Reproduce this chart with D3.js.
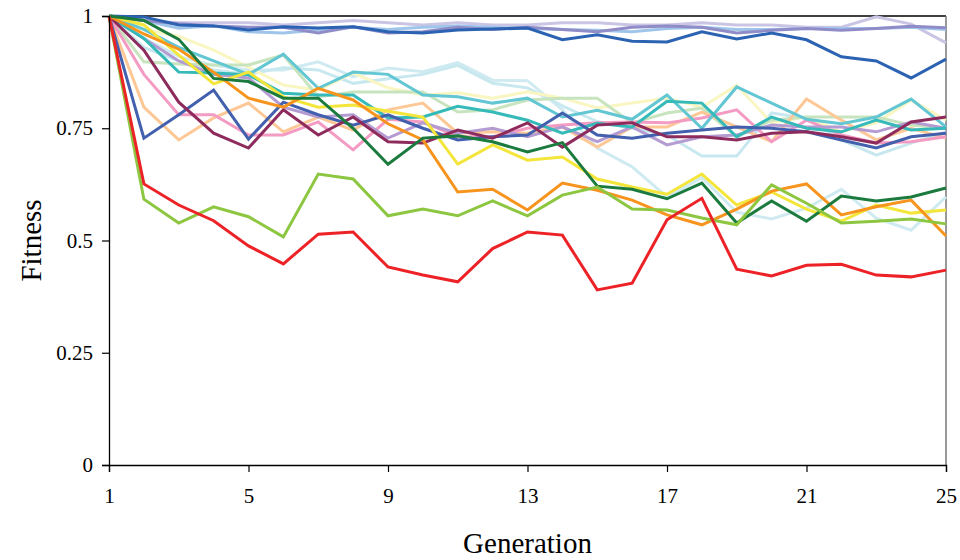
<!DOCTYPE html>
<html lang="en">
  <head>
    <meta charset="UTF-8" />
    <title>Fitness by generation</title>
    <script src="https://cdn.jsdelivr.net/npm/d3@7"></script>
    <style>
      body { margin: 0; background: #fff; }
      text { font-family: "Liberation Serif", "Times New Roman", serif; }
    </style>
  </head>
  <body>
    <script>
      let generations = d3.range(1, 26);
      let xTicks = [1, 5, 9, 13, 17, 21, 25];
      let yTicks = [0, 0.25, 0.5, 0.75, 1];

      // one array per run, fitness for generations 1..25
      let lightLavender = [1, 0.99, 0.985, 0.985, 0.985, 0.98, 0.985, 0.99, 0.985, 0.98, 0.985, 0.98, 0.98, 0.985, 0.985, 0.98, 0.98, 0.985, 0.98, 0.98, 0.975, 0.975, 0.998, 0.982, 0.94];
      let lightBlue = [1, 0.99, 0.973, 0.978, 0.965, 0.962, 0.969, 0.975, 0.97, 0.975, 0.978, 0.975, 0.972, 0.97, 0.968, 0.965, 0.972, 0.975, 0.97, 0.97, 0.972, 0.972, 0.972, 0.975, 0.97];
      let medLavender = [1, 0.99, 0.983, 0.978, 0.975, 0.975, 0.962, 0.976, 0.962, 0.965, 0.975, 0.97, 0.975, 0.97, 0.965, 0.975, 0.978, 0.975, 0.962, 0.968, 0.972, 0.968, 0.972, 0.977, 0.974];
      let darkBlue = [1, 0.998, 0.98, 0.978, 0.969, 0.976, 0.973, 0.976, 0.965, 0.962, 0.969, 0.971, 0.973, 0.947, 0.958, 0.944, 0.942, 0.965, 0.949, 0.962, 0.947, 0.909, 0.9, 0.862, 0.904];
      let lightCyanA = [1, 0.95, 0.91, 0.89, 0.88, 0.88, 0.898, 0.865, 0.884, 0.876, 0.896, 0.857, 0.856, 0.791, 0.706, 0.664, 0.597, 0.64, 0.563, 0.548, 0.572, 0.614, 0.55, 0.523, 0.597];
      let lightCyanB = [1, 0.93, 0.9, 0.88, 0.87, 0.885, 0.88, 0.85, 0.86, 0.87, 0.89, 0.85, 0.84, 0.8, 0.765, 0.75, 0.735, 0.688, 0.688, 0.784, 0.772, 0.724, 0.69, 0.717, 0.742];
      let lightYellow = [1, 0.97, 0.955, 0.924, 0.886, 0.846, 0.835, 0.873, 0.84, 0.824, 0.829, 0.817, 0.831, 0.817, 0.795, 0.806, 0.817, 0.797, 0.846, 0.762, 0.775, 0.742, 0.762, 0.813, 0.768];
      let lightGreen = [1, 0.898, 0.893, 0.891, 0.891, 0.913, 0.82, 0.831, 0.831, 0.831, 0.786, 0.791, 0.813, 0.817, 0.817, 0.762, 0.784, 0.795, 0.731, 0.768, 0.775, 0.775, 0.775, 0.757, 0.75];
      let peach = [1, 0.797, 0.724, 0.773, 0.806, 0.742, 0.775, 0.746, 0.791, 0.806, 0.739, 0.742, 0.739, 0.753, 0.708, 0.753, 0.753, 0.786, 0.753, 0.72, 0.815, 0.768, 0.724, 0.75, 0.728];
      let pink = [1, 0.87, 0.78, 0.78, 0.735, 0.735, 0.764, 0.702, 0.77, 0.764, 0.731, 0.731, 0.75, 0.757, 0.762, 0.764, 0.762, 0.773, 0.791, 0.72, 0.768, 0.735, 0.717, 0.72, 0.731];
      let lavender = [1, 0.95, 0.9, 0.87, 0.862, 0.797, 0.775, 0.78, 0.728, 0.762, 0.739, 0.75, 0.731, 0.753, 0.72, 0.753, 0.713, 0.731, 0.735, 0.757, 0.753, 0.753, 0.742, 0.764, 0.75];
      let medCyan = [1, 0.97, 0.93, 0.9, 0.87, 0.915, 0.839, 0.875, 0.87, 0.824, 0.82, 0.806, 0.817, 0.775, 0.79, 0.77, 0.824, 0.75, 0.842, 0.806, 0.77, 0.76, 0.775, 0.815, 0.753];
      let teal = [1, 0.95, 0.875, 0.873, 0.869, 0.828, 0.824, 0.824, 0.773, 0.775, 0.799, 0.786, 0.768, 0.739, 0.761, 0.753, 0.81, 0.806, 0.731, 0.775, 0.75, 0.742, 0.768, 0.746, 0.75];
      let blue = [1, 0.728, 0.78, 0.835, 0.726, 0.808, 0.78, 0.757, 0.78, 0.75, 0.724, 0.731, 0.735, 0.784, 0.735, 0.728, 0.739, 0.746, 0.753, 0.75, 0.742, 0.724, 0.706, 0.731, 0.739];
      let maroon = [1, 0.924, 0.808, 0.739, 0.706, 0.791, 0.735, 0.775, 0.72, 0.717, 0.746, 0.728, 0.762, 0.708, 0.757, 0.762, 0.731, 0.731, 0.724, 0.739, 0.742, 0.731, 0.717, 0.764, 0.775];
      let yellow = [1, 0.98, 0.913, 0.849, 0.875, 0.82, 0.797, 0.802, 0.788, 0.775, 0.67, 0.713, 0.679, 0.686, 0.637, 0.619, 0.603, 0.648, 0.579, 0.608, 0.57, 0.543, 0.579, 0.561, 0.568];
      let orange = [1, 0.96, 0.926, 0.875, 0.817, 0.797, 0.839, 0.813, 0.76, 0.724, 0.608, 0.614, 0.568, 0.628, 0.612, 0.59, 0.557, 0.535, 0.57, 0.61, 0.626, 0.557, 0.575, 0.59, 0.51];
      let darkGreen = [1, 0.99, 0.948, 0.861, 0.854, 0.817, 0.817, 0.75, 0.67, 0.728, 0.733, 0.72, 0.697, 0.718, 0.621, 0.614, 0.593, 0.628, 0.539, 0.588, 0.543, 0.599, 0.588, 0.597, 0.617];
      let yellowGreen = [1, 0.592, 0.539, 0.575, 0.553, 0.508, 0.648, 0.637, 0.555, 0.57, 0.555, 0.588, 0.555, 0.601, 0.619, 0.57, 0.568, 0.55, 0.535, 0.624, 0.583, 0.539, 0.543, 0.548, 0.537];
      let red = [1, 0.626, 0.579, 0.544, 0.488, 0.448, 0.514, 0.519, 0.441, 0.423, 0.408, 0.482, 0.519, 0.512, 0.39, 0.405, 0.546, 0.594, 0.436, 0.421, 0.445, 0.447, 0.423, 0.419, 0.434];

      let runs = [
        { values: lightLavender, color: "#cbc5e5" },
        { values: lightBlue, color: "#9fc5ea" },
        { values: medLavender, color: "#8f8cc8" },
        { values: darkBlue, color: "#2b63b2" },
        { values: lightCyanA, color: "#cfebf1" },
        { values: lightCyanB, color: "#c8e8ef" },
        { values: lightYellow, color: "#f9f6c2" },
        { values: lightGreen, color: "#c7e4bf" },
        { values: peach, color: "#fdc896" },
        { values: pink, color: "#f49bc3" },
        { values: lavender, color: "#b49cd2" },
        { values: medCyan, color: "#62c6d3" },
        { values: teal, color: "#35bab9" },
        { values: blue, color: "#4260ad" },
        { values: maroon, color: "#8e2b5d" },
        { values: yellow, color: "#f4e53a" },
        { values: orange, color: "#f7941e" },
        { values: darkGreen, color: "#1b7a3d" },
        { values: yellowGreen, color: "#8dc640" },
        { values: red, color: "#ec2227" }
      ];

      let width = 960, height = 560;
      let plotLeft = 109, plotRight = 946, plotTop = 16, plotBottom = 465;

      let svg = d3.select("body").append("svg")
        .attr("width", width)
        .attr("height", height);

      let x = d3.scaleLinear().domain([1, 25]).range([plotLeft, plotRight]);
      let y = d3.scaleLinear().domain([0, 1]).range([plotBottom, plotTop]);

      // frame: top and right edge
      svg.append("line")
        .attr("x1", plotLeft).attr("x2", plotRight)
        .attr("y1", plotTop).attr("y2", plotTop)
        .attr("stroke", "#000").attr("stroke-width", 1.3);
      svg.append("line")
        .attr("x1", plotRight).attr("x2", plotRight)
        .attr("y1", plotTop).attr("y2", plotBottom)
        .attr("stroke", "#777").attr("stroke-width", 1.5);

      let line = d3.line()
        .x(function (d, i) { return x(generations[i]); })
        .y(function (d) { return y(d); });

      svg.selectAll("path.run")
        .data(runs)
        .enter()
        .append("path")
        .attr("class", "run")
        .attr("d", function (d) { return line(d.values); })
        .attr("fill", "none")
        .attr("stroke", function (d) { return d.color; })
        .attr("stroke-width", 3)
        .attr("stroke-linejoin", "miter");

      let xAxis = svg.append("g")
        .attr("transform", "translate(0," + plotBottom + ")")
        .call(d3.axisBottom(x).tickValues(xTicks).tickSize(7).tickPadding(16).tickFormat(d3.format("d")));
      let yAxis = svg.append("g")
        .attr("transform", "translate(" + plotLeft + ",0)")
        .call(d3.axisLeft(y).tickValues(yTicks).tickSize(7).tickPadding(9).tickFormat(function (d) { return String(d); }));

      [xAxis, yAxis].forEach(function (g) {
        g.select(".domain").attr("stroke", "#000").attr("stroke-width", 1.3);
        g.selectAll(".tick line").attr("stroke", "#000").attr("stroke-width", 1.2);
        g.selectAll(".tick text")
          .attr("fill", "#000")
          .style("font-family", "'Liberation Serif', serif")
          .style("font-size", "21px");
      });

      svg.append("text")
        .attr("x", (plotLeft + plotRight) / 2)
        .attr("y", 553)
        .attr("text-anchor", "middle")
        .style("font-size", "29px")
        .text("Generation");

      svg.append("text")
        .attr("transform", "translate(41," + y(0.5) + ") rotate(-90)")
        .attr("text-anchor", "middle")
        .style("font-size", "29px")
        .text("Fitness");
    </script>
  </body>
</html>
